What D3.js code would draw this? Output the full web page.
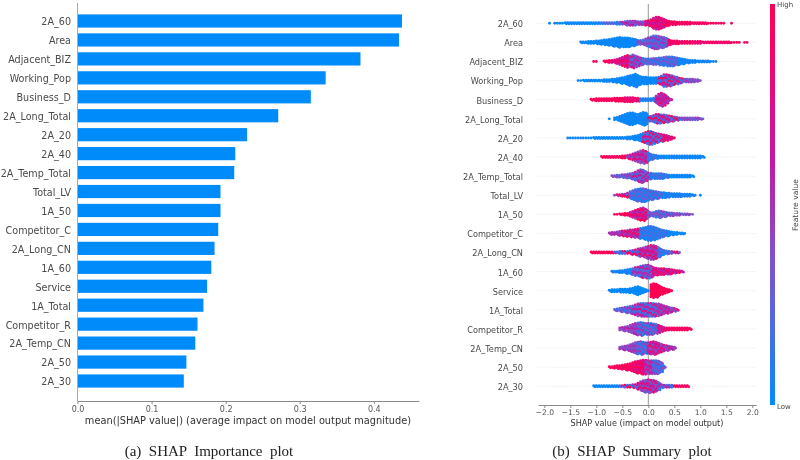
<!DOCTYPE html>
<html><head><meta charset="utf-8">
<script src="https://cdnjs.cloudflare.com/ajax/libs/d3/7.8.5/d3.min.js"></script>
<style>html,body{margin:0;background:#fff}svg{display:block;filter:blur(.35px)}text{font-family:"DejaVu Sans",sans-serif}</style>
</head><body><div id="c"></div>
<script>
const features=["2A_60","Area","Adjacent_BIZ","Working_Pop","Business_D","2A_Long_Total","2A_20","2A_40","2A_Temp_Total","Total_LV","1A_50","Competitor_C","2A_Long_CN","1A_60","Service","1A_Total","Competitor_R","2A_Temp_CN","2A_50","2A_30"];
const importance=[.438,.434,.382,.335,.315,.271,.229,.213,.2116,.193,.193,.19,.185,.1806,.175,.17,.162,.159,.147,.1435];
const importanceTicks=[0,.1,.2,.3,.4];
const shapTicks=[-2,-1.5,-1,-.5,0,.5,1,1.5,2];
const binStep=.05;
const binStart=[-1.95,-1.3,-1.05,-1.35,-1.1,-.75,-1.55,-.95,-.7,-.65,-.65,-.75,-1.1,-.7,-.75,-.65,-.55,-.55,-.75,-1.05];
const c0=[0,1,0,1,1,1,1,2,2,2,2,2,2,2,2,2,2,2,2,2,2,2,2,2,2,2,2,3,3,3,4,5,5,5,5,4,4,4,5,6,8,11,13,13,11,9,6,5,4,4,3,3,3,3,3,3,2,2,2,2,2,2,1,1,1,1,1,1,1,0,0,1];
const c1=[2,2,2,3,3,3,4,4,5,6,6,7,8,9,10,11,10,10,10,9,8,7,5,5,6,8,10,12,14,14,13,12,11,9,6,4,4,4,3,3,3,3,3,3,3,3,3,2,2,2,2,2,2,2,2,2,2,2,1,1,1,1,0,1,1];
const c2=[1,1,0,0,2,2,3,3,4,5,7,9,11,13,12,14,12,10,8,7,6,6,6,7,7,8,8,9,10,10,10,9,8,7,6,5,4,3,3,3,2,2,2,2,2,1,1,1];
const c3=[1,1,2,2,2,2,2,2,2,2,3,3,3,4,4,5,6,7,8,10,11,12,14,11,9,8,8,7,7,7,7,8,10,13,13,12,11,9,8,6,5,4,4,4,4,3,3,1];
const c4=[2,2,3,3,3,3,3,3,3,4,4,4,4,5,5,5,5,4,4,3,3,3,3,3,4,8,12,14,12,8,3,1];
const c5=[1,0,3,4,6,8,10,12,13,13,11,10,12,14,13,6,6,8,10,10,9,9,8,7,6,5,4,3,3,3,3,3,3,3,3,2,1];
const c6=[1,1,1,1,1,1,1,1,1,1,2,2,2,2,2,2,2,2,2,2,2,2,2,3,3,4,5,6,8,10,12,14,14,12,10,9,8,7,6,4,3,1];
const c7=[0,2,2,2,2,2,2,2,2,3,3,4,5,7,9,11,13,14,12,9,6,5,4,3,3,3,3,3,3,3,3,3,3,3,3,3,3,3,3,3,2];
const c8=[2,2,3,3,4,4,5,6,7,9,12,14,13,10,7,7,6,6,6,6,5,4,3,3,3,3,3,3,3,3,3,2];
const c9=[1,2,2,3,3,5,8,10,12,13,14,14,13,11,10,9,8,7,6,6,5,5,4,4,4,4,3,3,3,3,2,1,0,1];
const c10=[1,1,2,2,3,3,5,7,9,11,13,14,11,7,4,5,7,8,7,6,5,4,4,3,3,3,2,2,2,1,1];
const c11=[2,3,3,4,5,6,6,7,8,8,9,10,11,12,13,15,15,14,12,10,8,7,6,5,4,3,3,2,2,1];
const c12=[2,2,2,2,2,2,2,2,2,2,2,3,3,3,3,4,5,6,8,9,10,12,13,15,15,13,10,7,5,4,3,3,2,2,1];
const c13=[2,2,2,3,3,4,5,6,7,9,10,12,13,14,14,12,9,8,7,7,7,6,6,5,4,3,3,2];
const c14=[2,3,3,3,4,4,4,4,5,6,8,9,7,5,3,1,13,15,14,11,8,6,4,3,1];
const c15=[2,3,4,5,6,7,8,9,11,13,14,14,14,14,14,14,13,13,11,9,8,6,5,4,2];
const c16=[3,4,5,6,8,10,12,13,14,13,12,12,12,11,10,8,6,4,3,3,3,3,3,3,3,3,3,2];
const c17=[3,4,5,6,8,10,12,13,14,13,12,12,13,14,13,11,9,7,6,5,4,3];
const c18=[2,2,3,4,4,5,6,7,8,10,12,13,14,15,15,14,14,14,14,13,10,3];
const c19=[2,2,2,2,2,2,2,2,2,2,2,2,3,3,3,4,4,7,10,12,13,14,13,13,11,8,4,3,3,3,3,2,2,2,2,2,2];
const binCounts=[c0,c1,c2,c3,c4,c5,c6,c7,c8,c9,c10,c11,c12,c13,c14,c15,c16,c17,c18,c19];
// colour zones: [from SHAP, low feature value, high feature value]
const zones=[
[[-2,0,.05],[-.9,.05,.35],[-.5,.2,.65],[-.05,.55,1],[.35,.85,1]],
[[-2,0,.05],[-.2,.1,.55],[.38,.8,1]],
[[-2,.9,1],[-.7,.55,1],[-.35,.1,.75],[-.1,.05,.4],[.6,0,.08]],
[[-2,0,.05],[.2,.05,1],[.7,.25,.5]],
[[-2,.9,1],[-.45,.7,1],[-.15,0,.15],[.12,.45,.8]],
[[-2,0,.05],[0,.05,1],[.65,.25,.5]],
[[-2,0,.05],[-.1,.02,.95],[.3,.6,1]],
[[-2,.9,1],[-.4,.3,.85],[0,.02,.25],[.2,0,.06]],
[[-2,.2,.5],[-.3,.1,.75],[.02,.02,.25],[.4,0,.05]],
[[-2,.25,1],[-.38,.02,.35],[.3,0,.12]],
[[-2,.9,1],[-.35,.45,1],[0,.1,.5],[.5,.25,.5]],
[[-2,.4,.6],[-.5,.4,1],[-.15,0,.25],[.4,0,.05]],
[[-2,.95,1],[-.65,0,.9],[-.15,.35,.9],[.18,0,.3],[.45,.3,.95]],
[[-2,0,.1],[-.3,.1,.7],[.1,.5,1]],
[[-2,0,.02],[.02,.98,1]],
[[-2,.1,.5],[-.3,.05,.8],[.2,.3,.75]],
[[-2,.35,.6],[-.2,.02,.55],[.2,.5,.9],[.35,.85,1]],
[[-2,.3,.55],[-.2,.02,.5],[0,.3,.95],[.35,.35,.7]],
[[-2,.9,1],[-.3,.7,1],[-.05,.3,.8],[.1,.02,.5]],
[[-2,0,.05],[-.55,0,1],[-.2,.25,.9],[.2,.05,.7],[.5,.8,1]]
];
const dither=[0,.8,.3,1,.5,.1,.9,.4,.7,.2];
const colorStops=[0,.2,.4,.6,.8,1];
const colorValues=["#008bfb","#4f6ae0","#8a4bc6","#c01aa5","#e80a7a","#ff0051"];
const caption=["(a)  SHAP  Importance  plot","(b)  SHAP  Summary  plot"];

const svg=d3.select("#c").append("svg").attr("width",800).attr("height",460);
const axisCol="#8a8a8a",labCol="#4a4a4a",tickCol="#555";
// ---------- left panel
const xL=d3.scaleLinear().domain([0,.461]).range([77.5,419]);
const yL=d3.scalePoint().domain(features).range([21,381]);
svg.append("g").selectAll("rect").data(importance).join("rect")
 .attr("x",xL(0)).attr("y",(d,i)=>yL(features[i])-6.6).attr("height",13.2)
 .attr("width",d=>xL(d)-xL(0)).attr("fill","#008bfb");
const axL=svg.append("g").attr("transform","translate(0,401)")
 .call(d3.axisBottom(xL).tickValues(importanceTicks).tickFormat(d3.format(".1f")).tickSizeInner(3).tickSizeOuter(0).tickPadding(2));
axL.select(".domain").attr("stroke",axisCol).attr("stroke-width",1.1);
axL.selectAll(".tick line").attr("stroke",axisCol);
axL.selectAll("text").attr("font-size",8).attr("fill",tickCol).attr("font-family","DejaVu Sans");
svg.append("line").attr("x1",77.5).attr("x2",77.5).attr("y1",3).attr("y2",401).attr("stroke","#aaa").attr("stroke-width",1);
svg.append("g").selectAll("text").data(features).join("text")
 .attr("x",71).attr("y",d=>yL(d)+1).attr("dy",".35em").attr("text-anchor","end")
 .attr("font-size",9.6).attr("fill",labCol).text(d=>d);
svg.append("text").attr("x",248).attr("y",424).attr("text-anchor","middle").attr("font-size",9.8).attr("fill","#333")
 .text("mean(|SHAP value|) (average impact on model output magnitude)");
// ---------- right panel
const xR=d3.scaleLinear().domain([-2,2]).range([544.3,752.3]);
const yR=d3.scalePoint().domain(features).range([23.3,386.3]);
const color=d3.scaleLinear().domain(colorStops).range(colorValues).interpolate(d3.interpolateRgb);
svg.append("g").selectAll("line").data(features).join("line")
 .attr("x1",537).attr("x2",757).attr("y1",d=>yR(d)).attr("y2",d=>yR(d))
 .attr("stroke","#ddd").attr("stroke-width",.7).attr("stroke-dasharray","1,1.5");
svg.append("line").attr("x1",xR(0)).attr("x2",xR(0)).attr("y1",4).attr("y2",405).attr("stroke","#999").attr("stroke-width",1);
const points=[];
features.forEach((f,k)=>{
  binCounts[k].forEach((n,i)=>{
    const s=binStart[k]+i*binStep;
    let z=zones[k][0];
    zones[k].forEach(q=>{if(s>=q[0]-1e-9)z=q;});
    for(let j=0;j<n;j++){
      const t=dither[(j*3+i*7+k)%10];
      // alternate rows sit half a bin apart, like a packed swarm
      points.push({s:s+(j%2?binStep/2:0),f,off:j-(n-1)/2,v:z[1]+(z[2]-z[1])*t});
    }
  });
});
svg.append("g").selectAll("circle").data(points).join("circle")
 .attr("cx",d=>xR(d.s)).attr("cy",d=>yR(d.f)+d.off).attr("r",1.45).attr("fill",d=>color(d.v));
const axR=svg.append("g").attr("transform","translate(0,405)")
 .call(d3.axisBottom(xR).tickValues(shapTicks).tickFormat(d=>d3.format(".1f")(d).replace("-","\u2212")).tickSize(3).tickPadding(2));
axR.select(".domain").attr("stroke",axisCol).attr("stroke-width",1.1).attr("d","M538.7,0.5H756.7");
axR.selectAll(".tick line").attr("stroke",axisCol);
axR.selectAll("text").attr("font-size",7.6).attr("fill",tickCol).attr("font-family","DejaVu Sans");
svg.append("g").selectAll("text.l").data(features).join("text")
 .attr("x",523).attr("y",d=>yR(d)+1).attr("dy",".35em").attr("text-anchor","end")
 .attr("font-size",8.2).attr("fill",labCol).text(d=>d);
svg.append("text").attr("x",647).attr("y",426).attr("text-anchor","middle").attr("font-size",8.1).attr("fill","#333")
 .text("SHAP value (impact on model output)");
// colour bar
const cb=d3.scaleLinear().domain([0,1]).range([405,4]);
const grad=svg.append("defs").append("linearGradient").attr("id","cbg").attr("x1",0).attr("x2",0).attr("y1",1).attr("y2",0);
colorStops.forEach((o,i)=>grad.append("stop").attr("offset",o).attr("stop-color",colorValues[i]));
svg.append("rect").attr("x",770).attr("y",cb(1)).attr("width",5).attr("height",cb(0)-cb(1)).attr("fill","url(#cbg)");
svg.append("text").attr("x",777).attr("y",7).attr("font-size",7).attr("fill","#444").text("High");
svg.append("text").attr("x",777).attr("y",409).attr("font-size",7).attr("fill","#444").text("Low");
svg.append("text").attr("transform","translate(798,205) rotate(-90)").attr("text-anchor","middle").attr("font-size",7.6).attr("fill","#444").text("Feature value");
// captions
svg.append("g").selectAll("text").data(caption).join("text")
 .attr("x",(d,i)=>[209,632][i]).attr("y",456).attr("text-anchor","middle")
 .style("font-family","'Liberation Serif',serif").style("white-space","pre").attr("font-size",15).attr("fill","#222").text(d=>d);
</script></body></html>
